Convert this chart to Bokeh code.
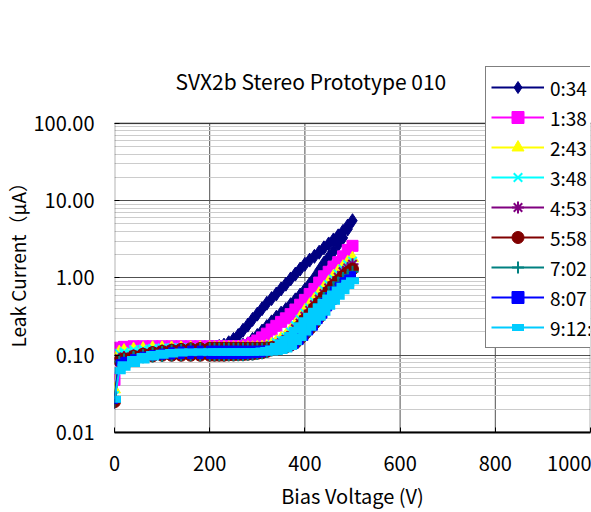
import numpy as np
from bokeh.plotting import figure
from bokeh.models import (ColumnDataSource, Legend, LegendItem, FixedTicker,
                          PrintfTickFormatter, Range1d, Title, Label, BoxAnnotation)
from bokeh.embed import file_html
from bokeh.resources import INLINE

FONT = "Noto Sans CJK JP"

# ---------------- data ----------------
labels = ["0:34", "1:38", "2:43", "3:48", "4:53", "5:58", "7:02", "8:07", "9:12:"]

# ramp up 0 -> 500 V, then ramp down 490 -> 20 V
v_up = [0, 10, 20, 40, 60, 80, 100, 120, 140, 160, 180, 200,
        210, 220, 230, 240, 250, 260, 270, 280, 290, 300, 310, 320, 330, 340, 350,
        360, 370, 380, 390, 400, 410, 420, 430, 440, 450, 460, 470, 480, 490, 500]
v_down = [490, 480, 470, 460, 450, 440, 430, 420, 410, 400, 390, 380, 370, 360, 350,
          340, 330, 320, 310, 300, 290, 280, 270, 260, 250, 240, 230, 220, 210,
          200, 180, 160, 140, 120, 100, 80, 60, 40, 20]

i_up_0034 = [0.025, 0.10, 0.11, 0.115, 0.12, 0.12, 0.125, 0.125, 0.125, 0.125, 0.125, 0.125,
             0.125, 0.125, 0.125, 0.125, 0.127, 0.13, 0.135, 0.14, 0.16, 0.18, 0.205, 0.235, 0.27, 0.31, 0.35,
             0.39, 0.45, 0.52, 0.6, 0.7, 0.83, 1.0, 1.25, 1.55, 1.85, 2.2, 2.7, 3.3, 4.3, 5.5]
i_dn_0034 = [4.7, 4.0, 3.5, 3.1, 2.75, 2.45, 2.15, 1.9, 1.7, 1.5, 1.3, 1.12, 0.97, 0.83, 0.72,
             0.62, 0.54, 0.47, 0.4, 0.34, 0.29, 0.245, 0.21, 0.18, 0.16, 0.145, 0.135, 0.13, 0.127,
             0.125, 0.125, 0.125, 0.125, 0.125, 0.12, 0.12, 0.12, 0.115, 0.11]

i_up_0138 = [0.048, 0.125, 0.128, 0.13, 0.13, 0.13, 0.13, 0.13, 0.13, 0.13, 0.13, 0.13,
             0.13, 0.13, 0.13, 0.13, 0.13, 0.13, 0.13, 0.13, 0.13, 0.13, 0.132, 0.135, 0.137, 0.14, 0.145,
             0.15, 0.17, 0.19, 0.22, 0.26, 0.3, 0.36, 0.43, 0.52, 0.65, 0.8, 1.0, 1.3, 1.8, 2.6]
i_dn_0138 = [2.3, 1.9, 1.6, 1.4, 1.2, 1.05, 0.87, 0.72, 0.62, 0.52, 0.45, 0.39, 0.34, 0.3, 0.27,
             0.24, 0.215, 0.19, 0.17, 0.155, 0.145, 0.135, 0.13, 0.13, 0.13, 0.13, 0.13, 0.13, 0.13,
             0.13, 0.13, 0.13, 0.13, 0.13, 0.13, 0.13, 0.13, 0.13, 0.128]

i_up_0243 = [0.036, 0.11, 0.115, 0.12, 0.122, 0.125, 0.125, 0.125, 0.125, 0.125, 0.125, 0.125,
             0.125, 0.125, 0.125, 0.125, 0.125, 0.125, 0.125, 0.125, 0.125, 0.125, 0.125, 0.127, 0.128, 0.13, 0.132,
             0.135, 0.15, 0.17, 0.2, 0.24, 0.29, 0.34, 0.41, 0.5, 0.61, 0.75, 0.93, 1.15, 1.45, 1.8]
i_dn_0243 = [1.6, 1.4, 1.22, 1.05, 0.89, 0.75, 0.63, 0.53, 0.45, 0.38, 0.31, 0.25, 0.21, 0.18, 0.165,
             0.15, 0.14, 0.13, 0.127, 0.125, 0.12, 0.12, 0.12, 0.12, 0.12, 0.12, 0.12, 0.12, 0.12,
             0.12, 0.12, 0.12, 0.12, 0.12, 0.12, 0.12, 0.118, 0.115, 0.11]

i_up_0348 = [0.03, 0.105, 0.11, 0.118, 0.12, 0.122, 0.124, 0.125, 0.125, 0.125, 0.125, 0.125,
             0.125, 0.125, 0.125, 0.125, 0.125, 0.125, 0.125, 0.125, 0.125, 0.125, 0.125, 0.126, 0.127, 0.128, 0.13,
             0.132, 0.145, 0.16, 0.19, 0.22, 0.26, 0.31, 0.38, 0.46, 0.57, 0.7, 0.86, 1.05, 1.32, 1.65]
i_dn_0348 = [1.48, 1.3, 1.12, 0.97, 0.82, 0.7, 0.58, 0.49, 0.41, 0.35, 0.29, 0.24, 0.2, 0.17, 0.155,
             0.145, 0.135, 0.13, 0.127, 0.125, 0.118, 0.118, 0.118, 0.118, 0.118, 0.118, 0.118, 0.118, 0.118,
             0.118, 0.118, 0.118, 0.118, 0.118, 0.118, 0.117, 0.115, 0.11, 0.105]

i_up_0453 = [0.026, 0.09, 0.095, 0.1, 0.105, 0.11, 0.115, 0.118, 0.12, 0.122, 0.123, 0.124,
             0.124, 0.124, 0.124, 0.124, 0.124, 0.124, 0.124, 0.124, 0.124, 0.124, 0.124, 0.125, 0.126, 0.127, 0.128,
             0.13, 0.14, 0.15, 0.17, 0.2, 0.24, 0.28, 0.34, 0.42, 0.51, 0.63, 0.77, 0.95, 1.2, 1.5]
i_dn_0453 = [1.35, 1.2, 1.02, 0.88, 0.74, 0.63, 0.53, 0.45, 0.38, 0.32, 0.26, 0.22, 0.18, 0.16, 0.145,
             0.135, 0.127, 0.12, 0.115, 0.112, 0.11, 0.108, 0.107, 0.106, 0.105, 0.105, 0.105, 0.105, 0.105,
             0.105, 0.105, 0.105, 0.105, 0.105, 0.104, 0.102, 0.1, 0.097, 0.093]

i_up_0558 = [0.025, 0.085, 0.09, 0.097, 0.103, 0.108, 0.112, 0.116, 0.119, 0.121, 0.122, 0.123,
             0.123, 0.123, 0.123, 0.123, 0.123, 0.123, 0.123, 0.123, 0.123, 0.123, 0.123, 0.124, 0.125, 0.126, 0.127,
             0.128, 0.135, 0.145, 0.165, 0.19, 0.22, 0.26, 0.31, 0.38, 0.46, 0.57, 0.7, 0.85, 1.05, 1.3]
i_dn_0558 = [1.18, 1.05, 0.92, 0.8, 0.67, 0.57, 0.48, 0.41, 0.34, 0.29, 0.24, 0.2, 0.17, 0.15, 0.135,
             0.125, 0.118, 0.112, 0.108, 0.106, 0.104, 0.103, 0.102, 0.102, 0.101, 0.101, 0.1, 0.1, 0.1,
             0.1, 0.1, 0.1, 0.1, 0.1, 0.1, 0.098, 0.096, 0.093, 0.089]

i_up_0702 = [0.025, 0.083, 0.088, 0.095, 0.1, 0.106, 0.11, 0.114, 0.117, 0.119, 0.12, 0.121,
             0.121, 0.121, 0.121, 0.121, 0.121, 0.121, 0.121, 0.121, 0.121, 0.121, 0.121, 0.122, 0.123, 0.124, 0.125,
             0.126, 0.132, 0.14, 0.158, 0.18, 0.21, 0.25, 0.3, 0.36, 0.44, 0.54, 0.66, 0.8, 0.98, 1.2]
i_dn_0702 = [1.1, 1.0, 0.87, 0.76, 0.64, 0.54, 0.46, 0.39, 0.33, 0.28, 0.23, 0.19, 0.165, 0.145, 0.132,
             0.122, 0.115, 0.11, 0.106, 0.104, 0.102, 0.101, 0.1, 0.1, 0.1, 0.1, 0.1, 0.1, 0.1,
             0.1, 0.1, 0.1, 0.1, 0.099, 0.098, 0.096, 0.094, 0.091, 0.087]

i_up_0807 = [0.026, 0.08, 0.086, 0.093, 0.1, 0.105, 0.11, 0.114, 0.117, 0.12, 0.12, 0.12,
             0.12, 0.12, 0.12, 0.12, 0.12, 0.12, 0.12, 0.12, 0.12, 0.12, 0.12, 0.121, 0.121, 0.122, 0.123,
             0.124, 0.128, 0.135, 0.15, 0.17, 0.2, 0.23, 0.28, 0.33, 0.41, 0.5, 0.61, 0.75, 0.9, 1.1]
i_dn_0807 = [1.0, 0.92, 0.8, 0.7, 0.59, 0.5, 0.42, 0.36, 0.31, 0.26, 0.22, 0.18, 0.16, 0.14, 0.128,
             0.12, 0.113, 0.108, 0.104, 0.102, 0.101, 0.1, 0.099, 0.099, 0.099, 0.099, 0.099, 0.099, 0.099,
             0.099, 0.099, 0.099, 0.099, 0.098, 0.097, 0.095, 0.092, 0.089, 0.085]

i_up_0912 = [0.027, 0.063, 0.07, 0.078, 0.087, 0.095, 0.1, 0.104, 0.107, 0.109, 0.11, 0.11,
             0.11, 0.11, 0.11, 0.11, 0.11, 0.11, 0.11, 0.11, 0.11, 0.11, 0.11, 0.11, 0.11, 0.112, 0.115,
             0.12, 0.13, 0.15, 0.17, 0.2, 0.23, 0.27, 0.31, 0.36, 0.43, 0.5, 0.58, 0.68, 0.8, 0.92]
i_dn_0912 = [0.85, 0.78, 0.7, 0.62, 0.55, 0.48, 0.42, 0.37, 0.32, 0.28, 0.24, 0.21, 0.18, 0.16, 0.145,
             0.13, 0.12, 0.115, 0.113, 0.112, 0.11, 0.11, 0.11, 0.11, 0.11, 0.11, 0.11, 0.11, 0.11,
             0.11, 0.11, 0.11, 0.11, 0.108, 0.106, 0.102, 0.096, 0.088, 0.075]

x_ticks = [0, 200, 400, 600, 800, 1000]
y_ticks = [0.01, 0.1, 1, 10, 100]
y_minor = [m * 10.0 ** e for e in (-2, -1, 0, 1) for m in range(2, 10)]

series_up = [i_up_0034, i_up_0138, i_up_0243, i_up_0348, i_up_0453,
             i_up_0558, i_up_0702, i_up_0807, i_up_0912]
series_dn = [i_dn_0034, i_dn_0138, i_dn_0243, i_dn_0348, i_dn_0453,
             i_dn_0558, i_dn_0702, i_dn_0807, i_dn_0912]

colors = ["#000080", "#FF00FF", "#FFFF00", "#00FFFF", "#800080",
          "#800000", "#008080", "#0000FF", "#00CCFF"]
markers = ["diamond", "square", "triangle", "x", "asterisk",
           "circle", "cross", "square", "dash"]
sizes = [14, 11, 12, 12, 12, 12, 12, 6, 13]
mk_lw = [1, 1, 1, 2, 2, 1, 2, 1, 7]

# ---------------- figure ----------------
# frame extends above the 100 line so the legend box is not clipped
TOP = 60
BOTTOM = 79
y_top = 10 ** (-2 + (512 - TOP - BOTTOM) / 77.5)

p = figure(width=591, height=512, x_range=Range1d(0, 1000), y_range=Range1d(0.01, y_top),
           y_axis_type="log", output_backend="svg", toolbar_location=None,
           min_border_left=114, min_border_right=1, min_border_top=TOP,
           min_border_bottom=BOTTOM, background_fill_color="white",
           border_fill_color="white")
p.outline_line_color = None

p.xaxis.ticker = FixedTicker(ticks=x_ticks)
p.yaxis.ticker = FixedTicker(ticks=y_ticks, minor_ticks=y_minor)
p.yaxis.formatter = PrintfTickFormatter(format="%.2f")

for ax in (p.xaxis[0], p.yaxis[0]):
    ax.axis_line_color = "black"
    ax.axis_line_width = 2
    ax.major_tick_in = 5
    ax.major_tick_out = 0
    ax.major_tick_line_color = "black"
    ax.minor_tick_in = 0
    ax.minor_tick_out = 0
    ax.major_label_text_font = FONT
    ax.major_label_text_font_size = "20px"
    ax.major_label_text_color = "black"
    ax.axis_label_text_font = FONT
    ax.axis_label_text_font_size = "20px"
    ax.axis_label_text_font_style = "normal"
    ax.axis_label_text_color = "black"
p.yaxis.axis_line_color = None

p.xaxis.axis_label = "Bias Voltage (V)"
p.xaxis.major_label_standoff = 23
p.xaxis.axis_label_standoff = 7
p.yaxis.major_label_standoff = 20

p.add_layout(Title(text="Leak Current（μA）", align="left", offset=85, standoff=0,
                   text_font=FONT, text_font_size="19px", text_font_style="normal",
                   text_color="black"), "left")

p.xgrid.grid_line_color = None
p.ygrid.grid_line_color = "#505050"
p.ygrid.grid_line_width = 1
p.ygrid.minor_grid_line_color = "#cccccc"
p.ygrid.minor_grid_line_width = 1

inner = x_ticks[1:-1]
p.segment(x0=inner, y0=[y_ticks[0]] * len(inner), x1=inner, y1=[y_ticks[-1]] * len(inner),
          line_color="#505050", line_width=1, level="underlay")

items = []
for k in range(9):
    xs = v_up + v_down
    ys = series_up[k] + series_dn[k]
    src = ColumnDataSource(dict(x=xs, y=ys))
    lr = p.line("x", "y", source=src, line_color=colors[k], line_width=2)
    if markers[k] in ("x", "asterisk", "cross", "dash"):
        sr = p.scatter("x", "y", source=src, marker=markers[k], size=sizes[k],
                       line_color=colors[k], line_width=mk_lw[k])
    else:
        sr = p.scatter("x", "y", source=src, marker=markers[k], size=sizes[k],
                       fill_color=colors[k], line_color=colors[k],
                       line_width=mk_lw[k])
    items.append(LegendItem(label=labels[k], renderers=[lr, sr]))

# plot-area border (from 0.01 to 100)
p.add_layout(BoxAnnotation(left=x_ticks[0], right=x_ticks[-1], bottom=y_ticks[0], top=y_ticks[-1],
                           fill_alpha=0, line_color="black", line_width=2))

p.add_layout(Label(x=61, y=433 - 81, x_units="screen", y_units="screen",
                   text="SVX2b Stereo Prototype 010", text_font=FONT, text_font_size="21px",
                   text_baseline="middle", text_align="left", text_color="black"))

legend = Legend(items=items, location=(371, 84), glyph_width=53, glyph_height=30,
                label_standoff=6, spacing=0, padding=5, margin=0,
                label_text_font=FONT, label_text_font_size="19px",
                label_text_color="black", border_line_color="black",
                border_line_width=1, background_fill_color="white",
                background_fill_alpha=1.0)
p.add_layout(legend)

open("out.html", "w").write(file_html(p, INLINE))
